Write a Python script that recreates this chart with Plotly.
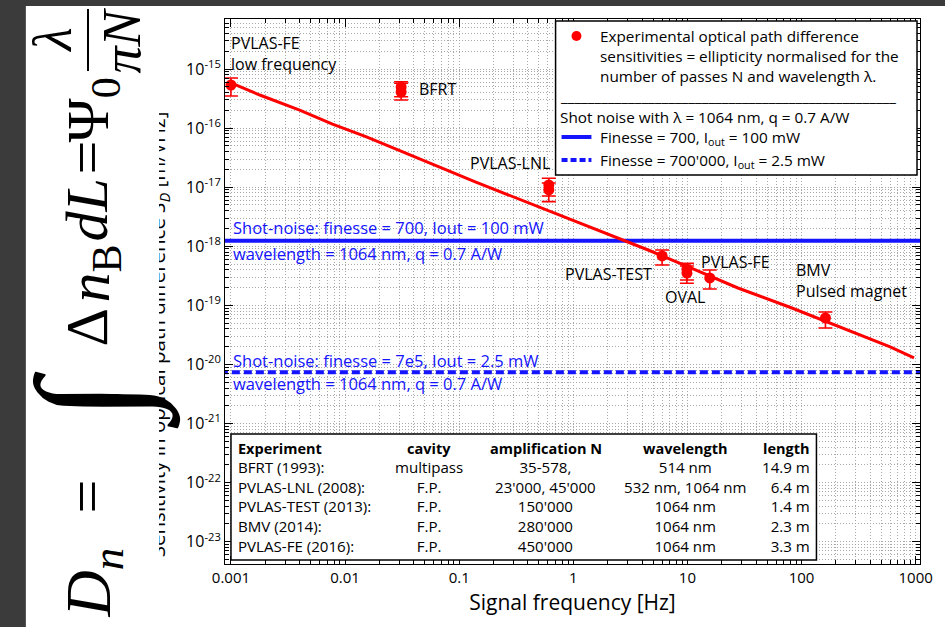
import plotly.graph_objects as go

# ---------------- data ----------------
curve_f = [0.001, 0.00179, 0.0040, 0.00776, 0.0154, 0.0317, 0.0708, 0.140, 0.272,
           0.528, 0.743, 2.03, 4.53, 10.7, 27.7, 80.2, 219, 598, 968]
curve_s = [5.80e-16, 3.63e-16, 2.02e-16, 1.17e-16, 7.10e-17, 3.94e-17, 2.11e-17,
           1.22e-17, 7.38e-18, 4.45e-18, 3.39e-18, 1.60e-18, 8.65e-19, 4.30e-19,
           1.97e-19, 9.20e-20, 4.30e-20, 1.98e-20, 1.29e-20]

exp_f = [0.001, 0.031, 0.031, 0.61, 0.61, 6.0, 9.9, 9.9, 15.7, 162]
exp_s = [5.36e-16, 4.96e-16, 4.08e-16, 1.09e-17, 8.97e-18, 6.86e-19, 4.13e-19,
         3.53e-19, 2.91e-19, 6.12e-20]
exp_hi = [7.05e-16, 6.10e-16, 5.73e-16, 1.42e-17, 1.18e-17, 8.65e-19, 5.14e-19,
          4.64e-19, 3.97e-19, 7.73e-20]
exp_lo = [3.49e-16, 3.40e-16, 2.99e-16, 7.1e-18, 5.69e-18, 4.83e-19, 2.69e-19,
          2.37e-19, 1.89e-19, 4.15e-20]

freq_limits = [0.0008, 1200]
shot_noise_700 = 1.24e-18
shot_noise_7e5 = 7.38e-21

x_tickvals = [0.001, 0.01, 0.1, 1, 10, 100, 1000]
x_ticktext = ["0.001", "0.01", "0.1", "1", "10", "100", "1000"]
y_exponents = [-23, -22, -21, -20, -19, -18, -17, -16, -15]

table_header = ["Experiment", "cavity", "amplification N", "wavelength", "length"]
table_rows = [
    ["BFRT (1993):", "multipass", "35-578,", "514 nm", "14.9 m"],
    ["PVLAS-LNL (2008):", "F.P.", "23'000, 45'000", "532 nm, 1064 nm", "6.4 m"],
    ["PVLAS-TEST (2013):", "F.P.", "150'000", "1064 nm", "1.4 m"],
    ["BMV (2014):", "F.P.", "280'000", "1064 nm", "2.3 m"],
    ["PVLAS-FE (2016):", "F.P.", "450'000", "1064 nm", "3.3 m"],
]

# ---------------- layout helpers ----------------
W_FIG, H_FIG = 945, 627
L, T, W, H = 225, 19, 698, 545
FONT = "Open Sans"
SERIF = "Liberation Serif"
RED = "#ff0000"
BLUE = "#1414ff"
SLATE = "#3b3b3b"


def px(x):
    return (x - L) / W


def py(y):
    return (T + H - y) / H


annotations = []


def txt(s, x, y, xa="left", ya="middle", size=14, color="black", family=FONT,
        angle=0, **kw):
    annotations.append(dict(text=s, x=px(x), y=py(y), xref="paper", yref="paper",
                            xanchor=xa, yanchor=ya, showarrow=False,
                            textangle=angle,
                            font=dict(size=size, color=color, family=family), **kw))


def box(x, y, w, h, color, xa="left", ya="top"):
    annotations.append(dict(text="&nbsp;", x=px(x), y=py(y), xref="paper",
                            yref="paper", xanchor=xa, yanchor=ya, showarrow=False,
                            width=w, height=h, bgcolor=color, borderpad=0,
                            borderwidth=0, font=dict(size=4)))


fig = go.Figure()

fig.add_trace(go.Scatter(x=freq_limits, y=[shot_noise_700] * 2, mode="lines",
                         line=dict(color=BLUE, width=4), hoverinfo="skip"))
fig.add_trace(go.Scatter(x=freq_limits, y=[shot_noise_7e5] * 2, mode="lines",
                         line=dict(color=BLUE, width=4, dash="8px,4px"),
                         hoverinfo="skip"))
fig.add_trace(go.Scatter(x=curve_f, y=curve_s, mode="lines",
                         line=dict(color=RED, width=3)))
fig.add_trace(go.Scatter(
    x=exp_f, y=exp_s, mode="markers",
    marker=dict(color=RED, size=11),
    error_y=dict(type="data", symmetric=False,
                 array=[h - s for h, s in zip(exp_hi, exp_s)],
                 arrayminus=[s - l for s, l in zip(exp_s, exp_lo)],
                 color=RED, thickness=1.6, width=7)))

minor_x = [m * 10 ** e for e in range(-4, 4) for m in range(2, 10)]
minor_y = [m * 10.0 ** e for e in range(-24, -13) for m in range(2, 10)]
GRID = "#a8a8a8"
GDASH = "1px,2px"

fig.update_xaxes(type="log", range=[-3.052, 3.038], showline=True, linecolor="black",
                 linewidth=1, mirror="allticks", ticks="inside", ticklen=8,
                 tickcolor="black", tickvals=x_tickvals, ticktext=x_ticktext,
                 tickfont=dict(size=15, family=FONT, color="black"),
                 showgrid=True, gridcolor=GRID, griddash=GDASH, gridwidth=1,
                 zeroline=False,
                 minor=dict(tickvals=minor_x, ticks="inside", ticklen=4,
                            tickcolor="black", showgrid=True, gridcolor=GRID,
                            griddash=GDASH, gridwidth=1),
                 title=dict(text="Signal frequency [Hz]",
                            font=dict(size=21, family=FONT, color="black"),
                            standoff=9))
fig.update_yaxes(type="log", range=[-23.376, -14.154], showline=True, linecolor="black",
                 linewidth=1, mirror="allticks", ticks="inside", ticklen=8,
                 tickcolor="black",
                 tickvals=[10.0 ** e for e in y_exponents],
                 ticktext=["10<sup>%d</sup>" % e for e in y_exponents],
                 tickfont=dict(size=16, family=FONT, color="black"),
                 showgrid=True, gridcolor=GRID, griddash=GDASH, gridwidth=1,
                 zeroline=False,
                 minor=dict(tickvals=minor_y, ticks="inside", ticklen=4,
                            tickcolor="black", showgrid=True, gridcolor=GRID,
                            griddash=GDASH, gridwidth=1))

shapes = []
# dark slide border (top and left strips)
shapes.append(dict(type="rect", xref="paper", yref="paper", layer="below",
                   x0=px(-5), x1=px(W_FIG + 5), y0=py(6), y1=py(-5),
                   fillcolor=SLATE, line=dict(width=0)))
shapes.append(dict(type="rect", xref="paper", yref="paper", layer="below",
                   x0=px(-5), x1=px(25), y0=py(H_FIG + 5), y1=py(-5),
                   fillcolor=SLATE, line=dict(width=0)))
# legend box
shapes.append(dict(type="rect", xref="paper", yref="paper", layer="above",
                   x0=px(557), x1=px(920), y0=py(175), y1=py(21),
                   fillcolor="white", line=dict(color="black", width=1.5)))
shapes.append(dict(type="line", xref="paper", yref="paper", layer="above",
                   x0=px(563), x1=px(593), y0=py(137), y1=py(137),
                   line=dict(color=BLUE, width=4)))
shapes.append(dict(type="line", xref="paper", yref="paper", layer="above",
                   x0=px(563), x1=px(593), y0=py(160), y1=py(160),
                   line=dict(color=BLUE, width=4, dash="6px,3px")))
shapes.append(dict(type="circle", xref="paper", yref="paper", layer="above",
                   x0=px(573), x1=px(583), y0=py(41), y1=py(31),
                   fillcolor=RED, line=dict(color=RED, width=0)))
# table box
shapes.append(dict(type="rect", xref="paper", yref="paper", layer="above",
                   x0=px(231), x1=px(819), y0=py(560), y1=py(434),
                   fillcolor="white", line=dict(color="black", width=1.5)))

# ---------------- texts ----------------
# y-axis title (partly hidden by the formula panel)
txt("Sensitivity in optical path difference <i>S</i><sub><i>D</i></sub> [m/√Hz]",
    175, 334, xa="right", ya="middle", size=20.5, angle=-90)
# formula panel covering the left part of the title
box(25, 6, 133, 625, "white")

# formula  D_n = ∫ Δn_B dL = Ψ_0 λ/(πN)   (rotated, read bottom to top)
FS = 60
txt("<i>D</i><sub><i>n</i></sub>", 92, 583, xa="center", size=FS + 4, family=SERIF,
    angle=-90)
txt("=", 86, 497, xa="center", size=FS, family=SERIF, angle=-90)
txt("∫", 92, 400, xa="center", size=150, family=SERIF, angle=-90)
txt("Δ", 86, 327, xa="center", size=FS, family=SERIF, angle=-90)
txt("<i>n</i><sub>B</sub>", 92, 274, xa="center", size=FS, family=SERIF, angle=-90)
txt("<i>dL</i>", 86, 210, xa="center", size=FS, family=SERIF, angle=-90)
txt("=", 86, 158, xa="center", size=FS, family=SERIF, angle=-90)
txt("Ψ<sub>0</sub>", 92, 110, xa="center", size=FS, family=SERIF, angle=-90)
txt("<i>λ</i>", 52, 40, xa="center", size=54, family=SERIF, angle=-90)
txt("<i>πN</i>", 122, 40, xa="center", size=54, family=SERIF, angle=-90)
box(87, 40, 2, 62, "black", xa="center", ya="middle")

# point labels
LS = 16
txt("PVLAS-FE<br>low frequency", 229, 54, size=LS, align="left")
txt("BFRT", 418, 89, size=LS)
txt("PVLAS-LNL", 469, 163, size=LS)
txt("PVLAS-TEST", 564, 274, size=LS)
txt("OVAL", 665, 297, size=LS)
txt("PVLAS-FE", 701, 262, size=LS)
txt("BMV<br>Pulsed magnet", 796, 280, size=LS, align="left")

# shot-noise labels
BS = 16.5
txt("Shot-noise: finesse = 700, Iout = 100 mW", 231, 228, size=BS, color=BLUE)
txt("wavelength = 1064 nm, q = 0.7 A/W", 231, 253, size=BS, color=BLUE)
txt("Shot-noise: finesse = 7e5, Iout = 2.5 mW", 231, 360, size=BS, color=BLUE)
txt("wavelength = 1064 nm, q = 0.7 A/W", 231, 383, size=BS, color=BLUE)

# legend texts
GS = 15.3
txt("Experimental optical path difference", 600, 36, size=GS)
txt("sensitivities = ellipticity normalised for the", 600, 56, size=GS)
txt("number of passes N and wavelength λ.", 600, 76, size=GS)
txt("_" * 50, 559, 96, size=GS)
txt("Shot noise with λ = 1064 nm, q = 0.7 A/W", 559, 117, size=GS)
txt("Finesse = 700, I<sub>out</sub> = 100 mW", 600, 138, size=GS)
txt("Finesse = 700'000, I<sub>out</sub> = 2.5 mW", 600, 161, size=GS)

# table: bold header row, then one multi-line text per column
col_x = [236, 430, 547, 687, 815]
col_anchor = ["left", "center", "center", "center", "right"]
for j, h in enumerate(table_header):
    txt("<b>%s</b>" % h, col_x[j], 448, xa=col_anchor[j], size=14.5)
for j in range(len(table_header)):
    column = "<br>".join(row[j] for row in table_rows)
    txt(column, col_x[j], 506, xa=col_anchor[j], size=15.1, align=col_anchor[j])

fig.update_layout(width=W_FIG, height=H_FIG,
                  margin=dict(l=L, r=W_FIG - L - W, t=T, b=H_FIG - T - H),
                  paper_bgcolor="white", plot_bgcolor="white",
                  showlegend=False, shapes=shapes, annotations=annotations,
                  font=dict(family=FONT, color="black"))

fig.write_html("out.html", config={"displayModeBar": False},
               post_script="document.documentElement.style.overflow='hidden';"
                           "document.body.style.margin='0';"
                           "document.body.style.overflow='hidden';"
                           "document.body.style.background='white';")
